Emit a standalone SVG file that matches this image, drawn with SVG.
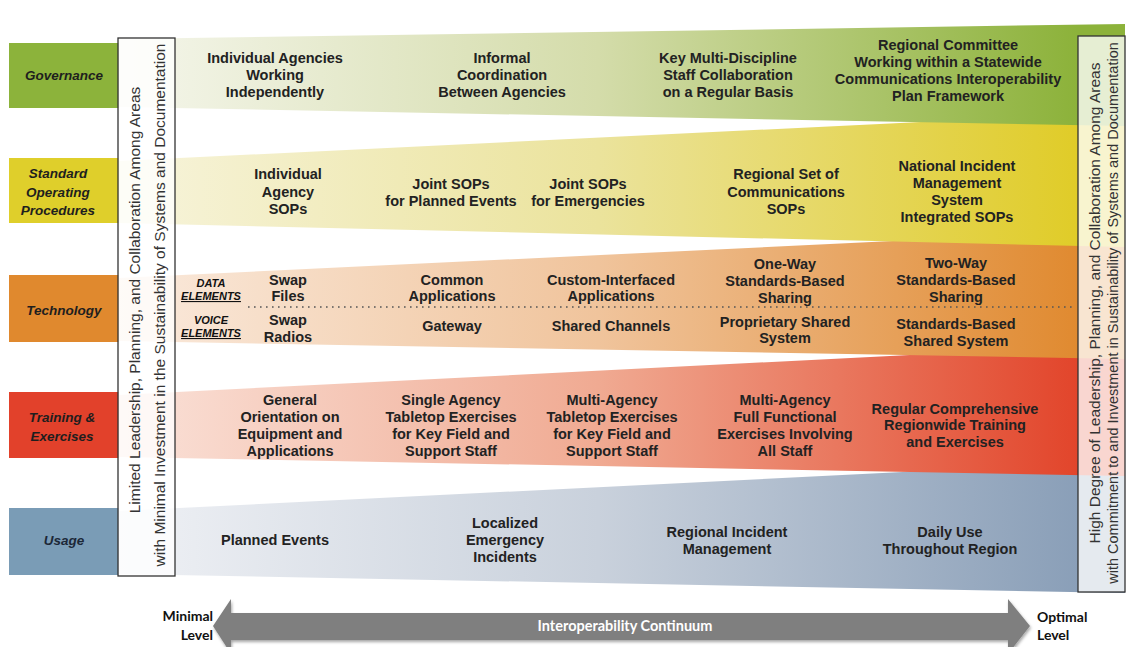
<svg xmlns="http://www.w3.org/2000/svg" width="1127" height="647" viewBox="0 0 1127 647">
<style>
.t{font-family:"Liberation Sans",Arial,sans-serif;font-weight:bold;font-size:14.5px;fill:#222;text-anchor:middle}
.lab{font-family:"Liberation Sans",Arial,sans-serif;font-weight:bold;font-style:italic;font-size:13.5px;fill:#1e1e1e;text-anchor:middle}
.el{font-family:"Liberation Sans",Arial,sans-serif;font-weight:bold;font-style:italic;font-size:11px;fill:#111;text-anchor:middle}
.side{font-family:"Liberation Sans",Arial,sans-serif;font-size:15.5px;fill:#333;text-anchor:middle}
.lvl{font-family:Lato,"Open Sans",sans-serif;font-weight:bold;font-size:14px;fill:#111}
.box{fill:#fff;fill-opacity:0.78;stroke:#333;stroke-width:1.3}
</style>
<defs>
<linearGradient id="gGov" gradientUnits="userSpaceOnUse" x1="118" y1="0" x2="1078" y2="0"><stop offset="0" stop-color="#f5f6ec"/><stop offset="0.5" stop-color="#d4dcaa"/><stop offset="1" stop-color="#8cb23a"/></linearGradient>
<linearGradient id="gSop" gradientUnits="userSpaceOnUse" x1="118" y1="0" x2="1078" y2="0"><stop offset="0" stop-color="#f7f4dc"/><stop offset="0.5" stop-color="#ebe39c"/><stop offset="1" stop-color="#e0cc28"/></linearGradient>
<linearGradient id="gTech" gradientUnits="userSpaceOnUse" x1="118" y1="0" x2="1078" y2="0"><stop offset="0" stop-color="#faeadd"/><stop offset="0.5" stop-color="#f0c49c"/><stop offset="1" stop-color="#e08a30"/></linearGradient>
<linearGradient id="gTrain" gradientUnits="userSpaceOnUse" x1="118" y1="0" x2="1078" y2="0"><stop offset="0" stop-color="#fae2d9"/><stop offset="0.5" stop-color="#f0aa92"/><stop offset="1" stop-color="#e2452b"/></linearGradient>
<linearGradient id="gUse" gradientUnits="userSpaceOnUse" x1="118" y1="0" x2="1078" y2="0"><stop offset="0" stop-color="#eff1f5"/><stop offset="0.5" stop-color="#c9d1dc"/><stop offset="1" stop-color="#8a9fb8"/></linearGradient>
<filter id="sh" x="-5%" y="-20%" width="110%" height="150%"><feDropShadow dx="1" dy="2" stdDeviation="1.5" flood-color="#000" flood-opacity="0.35"/></filter>
</defs>
<rect width="1127" height="647" fill="#fff"/>

<g id="bands">
<polygon id="band-usage" points="118,511 1125,461 1125,593 118,574" fill="url(#gUse)"/>
<polygon id="band-training" points="118,395 1125,344 1125,476 118,457" fill="url(#gTrain)"/>
<polygon id="band-technology" points="118,278 1125,230 1125,359 118,341" fill="url(#gTech)"/>
<polygon id="band-sop" points="118,161 1125,112 1125,247 118,223" fill="url(#gSop)"/>
<polygon id="band-governance" points="118,39 1125,24 1125,126 118,107" fill="url(#gGov)"/>
</g>

<g id="label-governance"><rect x="9" y="43" width="110" height="65" fill="#8cb33b"/><text class="lab" x="64" y="80">Governance</text></g>
<g id="label-sop"><rect x="9" y="158" width="110" height="65" fill="#dfcf2b"/><text class="lab" x="58" y="178">Standard</text><text class="lab" x="58" y="197">Operating</text><text class="lab" x="58" y="215">Procedures</text></g>
<g id="label-technology"><rect x="9" y="275" width="110" height="67" fill="#e0892e"/><text class="lab" x="64" y="315">Technology</text></g>
<g id="label-training"><rect x="9" y="392" width="110" height="66" fill="#e2412b"/><text class="lab" x="62" y="422">Training &amp;</text><text class="lab" x="62" y="441">Exercises</text></g>
<g id="label-usage"><rect x="9" y="508" width="110" height="67" fill="#7a9cb6"/><text class="lab" x="64" y="545" style="fill:#1c2838">Usage</text></g>

<g id="left-box"><rect class="box" x="118" y="38" width="57" height="538"/>
<text class="side" transform="translate(140,300) rotate(-90)">Limited Leadership, Planning, and Collaboration Among Areas</text>
<text class="side" transform="translate(165,305) rotate(-90)">with Minimal Investment in the Sustainability of Systems and Documentation</text></g>

<g id="right-box"><rect class="box" x="1078" y="36" width="47" height="556"/>
<text class="side" transform="translate(1100,303) rotate(-90)">High Degree of Leadership, Planning, and Collaboration Among Areas</text>
<text class="side" style="font-size:14.5px" transform="translate(1118,313) rotate(-90)">with Commitment to and Investment in Sustainability of Systems and Documentation</text></g>

<g id="gov-items">
<g id="gov-1"><text class="t" x="275" y="63">Individual Agencies</text><text class="t" x="275" y="80">Working</text><text class="t" x="275" y="97">Independently</text></g>
<g id="gov-2"><text class="t" x="502" y="63">Informal</text><text class="t" x="502" y="80">Coordination</text><text class="t" x="502" y="97">Between Agencies</text></g>
<g id="gov-3"><text class="t" x="728" y="63">Key Multi-Discipline</text><text class="t" x="728" y="80">Staff Collaboration</text><text class="t" x="728" y="97">on a Regular Basis</text></g>
<g id="gov-4"><text class="t" x="948" y="50">Regional Committee</text><text class="t" x="948" y="67">Working within a Statewide</text><text class="t" x="948" y="84">Communications Interoperability</text><text class="t" x="948" y="101">Plan Framework</text></g>
</g>

<g id="sop-items">
<g id="sop-1"><text class="t" x="288" y="179">Individual</text><text class="t" x="288" y="197">Agency</text><text class="t" x="288" y="214">SOPs</text></g>
<g id="sop-2"><text class="t" x="451" y="189">Joint SOPs</text><text class="t" x="451" y="206">for Planned Events</text></g>
<g id="sop-3"><text class="t" x="588" y="189">Joint SOPs</text><text class="t" x="588" y="206">for Emergencies</text></g>
<g id="sop-4"><text class="t" x="786" y="179">Regional Set of</text><text class="t" x="786" y="197">Communications</text><text class="t" x="786" y="214">SOPs</text></g>
<g id="sop-5"><text class="t" x="957" y="171">National Incident</text><text class="t" x="957" y="188">Management</text><text class="t" x="957" y="205">System</text><text class="t" x="957" y="222">Integrated SOPs</text></g>
</g>

<g id="tech-items">
<g id="tech-labels"><text class="el" x="211" y="287">DATA</text><text class="el" x="211" y="300" text-decoration="underline">ELEMENTS</text><text class="el" x="211" y="324">VOICE</text><text class="el" x="211" y="337" text-decoration="underline">ELEMENTS</text></g>
<g id="tech-1"><text class="t" x="288" y="285">Swap</text><text class="t" x="288" y="301">Files</text><text class="t" x="288" y="325">Swap</text><text class="t" x="288" y="342">Radios</text></g>
<g id="tech-2"><text class="t" x="452" y="285">Common</text><text class="t" x="452" y="301">Applications</text><text class="t" x="452" y="331">Gateway</text></g>
<g id="tech-3"><text class="t" x="611" y="285">Custom-Interfaced</text><text class="t" x="611" y="301">Applications</text><text class="t" x="611" y="331">Shared Channels</text></g>
<g id="tech-4"><text class="t" x="785" y="269">One-Way</text><text class="t" x="785" y="286">Standards-Based</text><text class="t" x="785" y="303">Sharing</text><text class="t" x="785" y="327">Proprietary Shared</text><text class="t" x="785" y="343">System</text></g>
<g id="tech-5"><text class="t" x="956" y="268">Two-Way</text><text class="t" x="956" y="285">Standards-Based</text><text class="t" x="956" y="302">Sharing</text><text class="t" x="956" y="329">Standards-Based</text><text class="t" x="956" y="346">Shared System</text></g>
</g>

<g id="training-items">
<g id="train-1"><text class="t" x="290" y="405">General</text><text class="t" x="290" y="422">Orientation on</text><text class="t" x="290" y="439">Equipment and</text><text class="t" x="290" y="456">Applications</text></g>
<g id="train-2"><text class="t" x="451" y="405">Single Agency</text><text class="t" x="451" y="422">Tabletop Exercises</text><text class="t" x="451" y="439">for Key Field and</text><text class="t" x="451" y="456">Support Staff</text></g>
<g id="train-3"><text class="t" x="612" y="405">Multi-Agency</text><text class="t" x="612" y="422">Tabletop Exercises</text><text class="t" x="612" y="439">for Key Field and</text><text class="t" x="612" y="456">Support Staff</text></g>
<g id="train-4"><text class="t" x="785" y="405">Multi-Agency</text><text class="t" x="785" y="422">Full Functional</text><text class="t" x="785" y="439">Exercises Involving</text><text class="t" x="785" y="456">All Staff</text></g>
<g id="train-5"><text class="t" x="955" y="414">Regular Comprehensive</text><text class="t" x="955" y="430">Regionwide Training</text><text class="t" x="955" y="447">and Exercises</text></g>
</g>

<g id="usage-items">
<g id="use-1"><text class="t" x="275" y="545">Planned Events</text></g>
<g id="use-2"><text class="t" x="505" y="528">Localized</text><text class="t" x="505" y="545">Emergency</text><text class="t" x="505" y="562">Incidents</text></g>
<g id="use-3"><text class="t" x="727" y="537">Regional Incident</text><text class="t" x="727" y="554">Management</text></g>
<g id="use-4"><text class="t" x="950" y="537">Daily Use</text><text class="t" x="950" y="554">Throughout Region</text></g>
</g>

<g id="connectors">
<line x1="248" y1="307" x2="1075" y2="307" stroke="#555" stroke-width="1.6" stroke-dasharray="1.6 4.4"/>
</g>

<g id="continuum">
<polygon points="213,626 231,599 231,613 1008,613 1008,599 1030,626 1008,654 1008,640 231,640 231,654" fill="#7f7f7f" filter="url(#sh)"/>
<text x="625" y="631" style="font-family:Lato,'Open Sans',sans-serif;font-weight:bold;font-size:14.5px;fill:#fff;text-anchor:middle">Interoperability Continuum</text>
</g>
<g id="minimal-level"><text class="lvl" x="213" y="621" text-anchor="end">Minimal</text><text class="lvl" x="213" y="640" text-anchor="end">Level</text></g>
<g id="optimal-level"><text class="lvl" x="1037" y="622">Optimal</text><text class="lvl" x="1037" y="640">Level</text></g>
</svg>
